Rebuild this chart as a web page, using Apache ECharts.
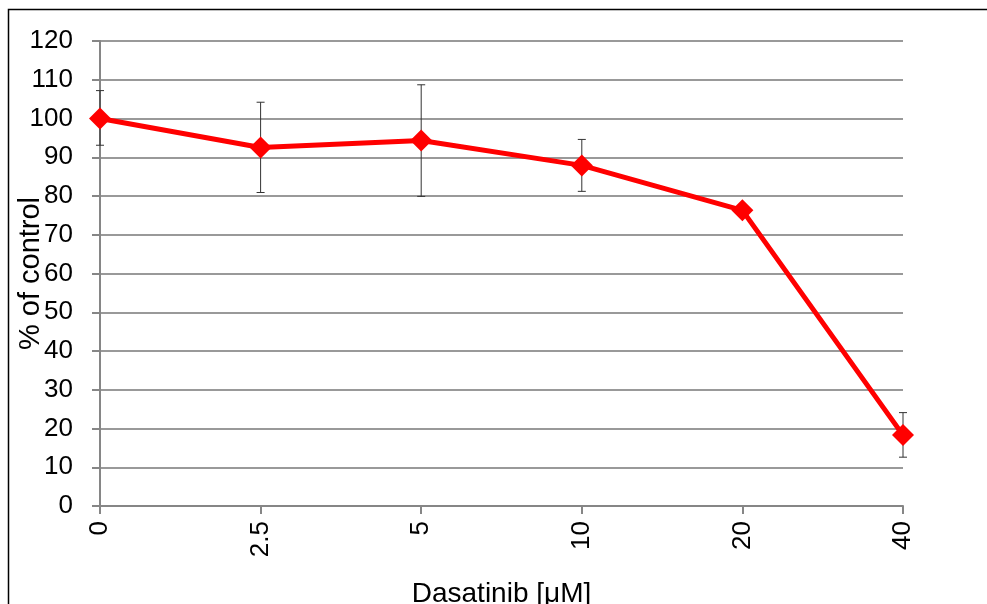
<!DOCTYPE html>
<html><head><meta charset="utf-8">
<script src="https://cdn.jsdelivr.net/npm/echarts@6/dist/echarts.min.js"></script>
<style>html,body{margin:0;padding:0;background:#fff}#c{width:987px;height:604px}</style>
</head><body><div id="c"></div>
<script>
const categories = ['0', '2.5', '5', '10', '20', '40'];
const values = [100, 92.5, 94.3, 87.9, 76.3, 18.3];
const errLow = [93.1, 80.9, 79.9, 81.2, 75.5, 12.6];
const errHigh = [107.2, 104.2, 108.7, 94.6, 77.1, 24.1];
const yTicks = [0, 120, 10];

const chart = echarts.init(document.getElementById('c'), null, {renderer: 'canvas'});
const font = '"Liberation Sans", Arial, sans-serif';
const errData = categories.map((c, i) => [i, errLow[i], errHigh[i]]);
chart.setOption({
  animation: false,
  backgroundColor: '#fff',
  graphic: [{type: 'rect', shape: {x: 8.5, y: 9.5, width: 1000, height: 700},
    style: {fill: 'none', stroke: '#000', lineWidth: 1.5}, z: 100}],
  grid: {left: 100, right: 84, top: 41, bottom: 98, containLabel: false, outerBoundsMode: 'none'},
  xAxis: {
    type: 'category', data: categories, boundaryGap: false,
    name: 'Dasatinib [μM]', nameLocation: 'middle', nameGap: 74, nameMoveOverlap: false,
    nameTextStyle: {fontFamily: font, fontSize: 28, color: '#000'},
    axisLine: {lineStyle: {color: '#868686', width: 2}},
    axisTick: {show: true, length: 8, alignWithLabel: true, lineStyle: {color: '#868686', width: 2}},
    axisLabel: {rotate: 90, margin: 15, fontFamily: font, fontSize: 26, color: '#000'},
    splitLine: {show: false}
  },
  yAxis: {
    type: 'value', min: yTicks[0], max: yTicks[1], interval: yTicks[2],
    name: '% of control', nameLocation: 'middle', nameGap: 55, nameMoveOverlap: false,
    nameTextStyle: {fontFamily: font, fontSize: 29, color: '#000'},
    axisLine: {show: true, lineStyle: {color: '#868686', width: 2}},
    axisTick: {show: true, length: 8, lineStyle: {color: '#868686', width: 2}},
    axisLabel: {margin: 27, fontFamily: font, fontSize: 26, color: '#000'},
    splitLine: {show: true, lineStyle: {color: '#999', width: 2}}
  },
  series: [
    {
      type: 'custom', data: errData, z: 3,
      renderItem: function (params, api) {
        const x = api.value(0);
        const lo = api.coord([x, api.value(1)]);
        const hi = api.coord([x, api.value(2)]);
        const w = 4;
        const st = {stroke: '#333', lineWidth: 1};
        return {type: 'group', children: [
          {type: 'line', shape: {x1: lo[0], y1: lo[1], x2: hi[0], y2: hi[1]}, style: st},
          {type: 'line', shape: {x1: lo[0] - w, y1: lo[1], x2: lo[0] + w, y2: lo[1]}, style: st},
          {type: 'line', shape: {x1: hi[0] - w, y1: hi[1], x2: hi[0] + w, y2: hi[1]}, style: st}
        ]};
      }
    },
    {
      type: 'line', data: values, z: 5,
      symbol: 'diamond', symbolSize: 22,
      lineStyle: {color: '#ff0000', width: 5},
      itemStyle: {color: '#ff0000'}
    }
  ]
});
</script></body></html>
